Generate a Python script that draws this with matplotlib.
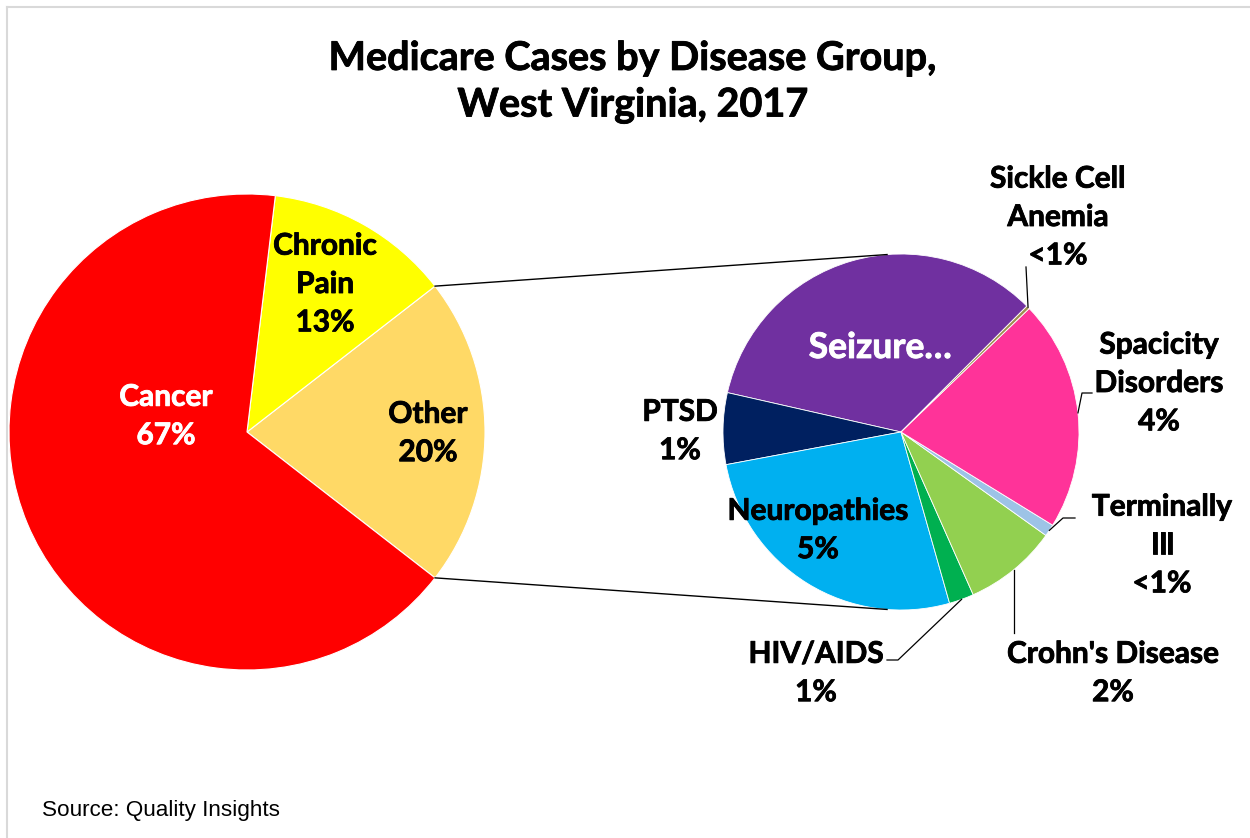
import numpy as np
import matplotlib.pyplot as plt
import matplotlib.patheffects as pe

# main pie (percent of all cases)
main_labels = ['Other', 'Chronic\nPain', 'Cancer']
main_pct = ['20%', '13%', '67%']
main_values = [21.0, 12.6, 66.4]
main_colors = ['#FFD966', '#FFFF00', '#FF0000']

# breakdown of "Other"
sub_labels = ['Seizure…', 'PTSD', 'Neuropathies', 'HIV/AIDS', "Crohn's Disease",
              'Terminally\nIll', 'Spacicity\nDisorders', 'Sickle Cell\nAnemia']
sub_pct = ['', '1%', '5%', '1%', '2%', '<1%', '4%', '<1%']
sub_values = [6.8, 1.3, 5.3, 0.45, 1.7, 0.22, 4.2, 0.06]
sub_colors = ['#7030A0', '#002060', '#00B0F0', '#00B050', '#92D050',
              '#9DC3E6', '#FF3399', '#A08C50']

W, H = 1250, 838
def Y(y):
    return H - y

FONT = 'Lato'

fig = plt.figure(figsize=(12.5, 8.38), dpi=100)
ax = fig.add_axes([0, 0, 1, 1])

c1, r1 = (247, Y(432)), 238
c2, r2 = (901, Y(432)), 178

w1, _ = ax.pie(main_values, colors=main_colors, startangle=-37.8, counterclock=True,
               center=c1, radius=r1, wedgeprops=dict(edgecolor='white', linewidth=0.8))
w2, _ = ax.pie(sub_values, colors=sub_colors, startangle=45, counterclock=True,
               center=c2, radius=r2, wedgeprops=dict(edgecolor='white', linewidth=0.6))

ax.set_xlim(0, W)
ax.set_ylim(0, H)
ax.set_aspect('equal')
ax.axis('off')

def edge(c, r, ang):
    a = np.radians(ang)
    return c[0] + r * np.cos(a), c[1] + r * np.sin(a)

# connector lines between the pies
other = w1[0]
for a1, a2 in [(other.theta2, 94.5), (other.theta1, -94.5)]:
    p1 = edge(c1, r1, a1)
    p2 = edge(c2, r2, a2)
    ax.plot([p1[0], p2[0]], [p1[1], p2[1]], color='black', lw=1)

def label(x, y, s, color='black', size=21.5, ls=1.45):
    ax.text(x, Y(y), s, color=color, ha='center', va='center', fontsize=size,
            fontweight='bold', family=FONT, linespacing=ls,
            path_effects=[pe.withStroke(linewidth=0.6, foreground=color)])

# main pie labels
label(166, 416, 'Cancer\n67%', color='white')
label(325, 284, 'Chronic\nPain\n13%')
label(428, 433, 'Other\n20%')

# sub pie labels
label(880, 348, 'Seizure…', color='white', size=25.5)
label(680, 431, 'PTSD\n1%')
label(818, 530, 'Neuropathies\n5%')
label(816, 673, 'HIV/AIDS\n1%')
label(1113, 673, "Crohn's Disease\n2%")
label(1162, 545, 'Terminally\nIll\n<1%')
label(1159, 383, 'Spacicity\nDisorders\n4%')
label(1058, 217, 'Sickle Cell\nAnemia\n<1%')

# leader lines
def mid(w):
    return (w.theta1 + w.theta2) / 2

leaders = {
    7: [(1026, 267)],
    6: [(1082, 393), (1092, 393)],
    5: [(1063, 518), (1075, 518)],
    4: [(None, 633)],
    3: [(898, 660), (887, 660)],
}
for i, pts in leaders.items():
    a = edge(c2, r2, mid(w2[i]))
    xs, ys = [a[0]], [a[1]]
    for px, py in pts:
        xs.append(a[0] if px is None else px)
        ys.append(Y(py))
    ax.plot(xs, ys, color='black', lw=0.9)

# title
label(633, 82, 'Medicare Cases by Disease Group,\nWest Virginia, 2017', size=28.5, ls=1.32)

ax.text(42, Y(810), 'Source: Quality Insights', ha='left', va='center',
        fontsize=16.2, family='Liberation Sans')

# frame edge of the original slide
ax.plot([7, 7], [0, Y(7)], color='#D9D9D9', lw=1.5)
ax.plot([7, W], [Y(7), Y(7)], color='#D9D9D9', lw=1.5)

fig.savefig('out.png', dpi=100)
